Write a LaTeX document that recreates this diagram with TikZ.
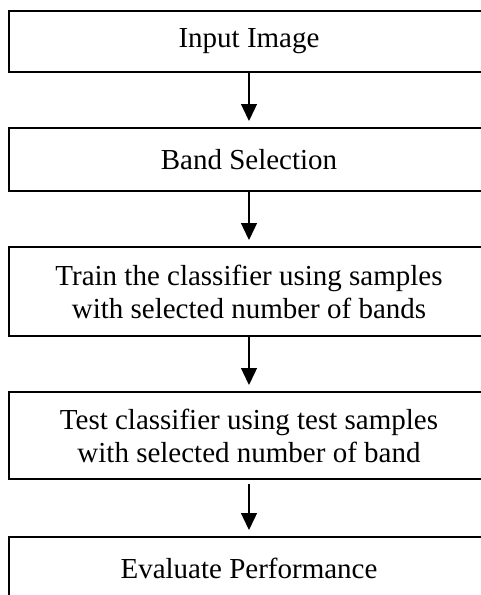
\documentclass[tikz,border=0pt]{standalone}
\usepackage{fontspec}
\setmainfont{Liberation Serif}
\usetikzlibrary{arrows.meta}

\begin{document}
\begin{tikzpicture}[x=1pt,y=-1pt,
		stepbox/.style={draw,line width=2pt,minimum width=480pt,align=center,inner sep=0pt,
			font=\fontsize{29}{33}\selectfont},
		flow/.style={line width=1.4pt,-{Triangle[length=17pt,width=16pt]},shorten >=6pt}]
		\useasboundingbox (0,0) rectangle (481,595);
		\node[stepbox,minimum height=61pt] (input) at (249,41.5) {Input Image};
		\node[stepbox,minimum height=63pt] (band) at (249,159.5) {Band Selection};
		\node[stepbox,minimum height=89pt] (train) at (249,291.5) {Train the classifier using samples\\with selected number of bands};
		\node[stepbox,minimum height=87pt] (test) at (249,435.5) {Test classifier using test samples\\with selected number of band};
		\node[stepbox,minimum height=62pt] (eval) at (249,568) {Evaluate Performance};
		\draw[flow] (input) -- (band);
		\draw[flow] (band) -- (train);
		\draw[flow] (train) -- (test);
		\draw[flow,shorten <=4pt] (test) -- (eval);
	\end{tikzpicture}
\end{document}
